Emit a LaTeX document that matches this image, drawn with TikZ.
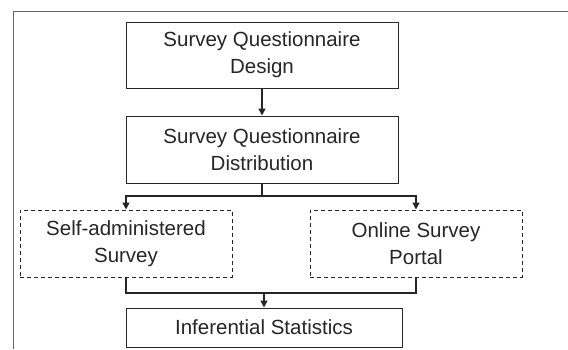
\documentclass[tikz,border=0pt]{standalone}
\usepackage{fontspec}
\setmainfont{Liberation Sans}
\usetikzlibrary{arrows.meta, positioning}

\tikzset{
    stage/.style={draw=black!85, line width=1pt, text=black!85, align=center, inner sep=0pt,
        font=\fontsize{20.5}{27}\selectfont},
    choice/.style={stage, dash pattern=on 4pt off 3pt},
    link/.style={draw=black!85, line width=1.4pt},
    arr/.style={link, -{Triangle[length=7pt,width=7pt]}}
}

\begin{document}
\begin{tikzpicture}[x=1pt, y=-1pt]
    \useasboundingbox (0,0) rectangle (568,349);
    \draw[black!60, line width=0.8pt] (13,349) -- (13,11) -- (568,11);

    \node[stage, minimum width=272pt, minimum height=66pt] (design) at (262,55) {Survey Questionnaire\\Design};
    \node[stage, minimum width=272pt, minimum height=67pt] (distrib) at (262,149.5) {Survey Questionnaire\\Distribution};
    \node[choice, minimum width=212pt, minimum height=67pt] (selfadm) at (126,243.5) {Self-administered\\Survey};
    \node[choice, minimum width=212pt, minimum height=67pt] (online) at (416,243.5) {Online Survey\\Portal};
    \node[stage, minimum width=276pt, minimum height=39pt] (infer) at (264,327.5) {Inferential Statistics};

    \coordinate (split) at (262,196);
    \coordinate (merge) at (264,293);

    \draw[arr] (design) -- (distrib);
    \draw[link] (distrib) -- (split);
    \draw[arr] (split) -| (selfadm);
    \draw[arr] (split) -| (online);
    \draw[link] (selfadm) |- (merge);
    \draw[link] (online) |- (merge);
    \draw[arr] (merge) -- (infer);
\end{tikzpicture}
\end{document}
